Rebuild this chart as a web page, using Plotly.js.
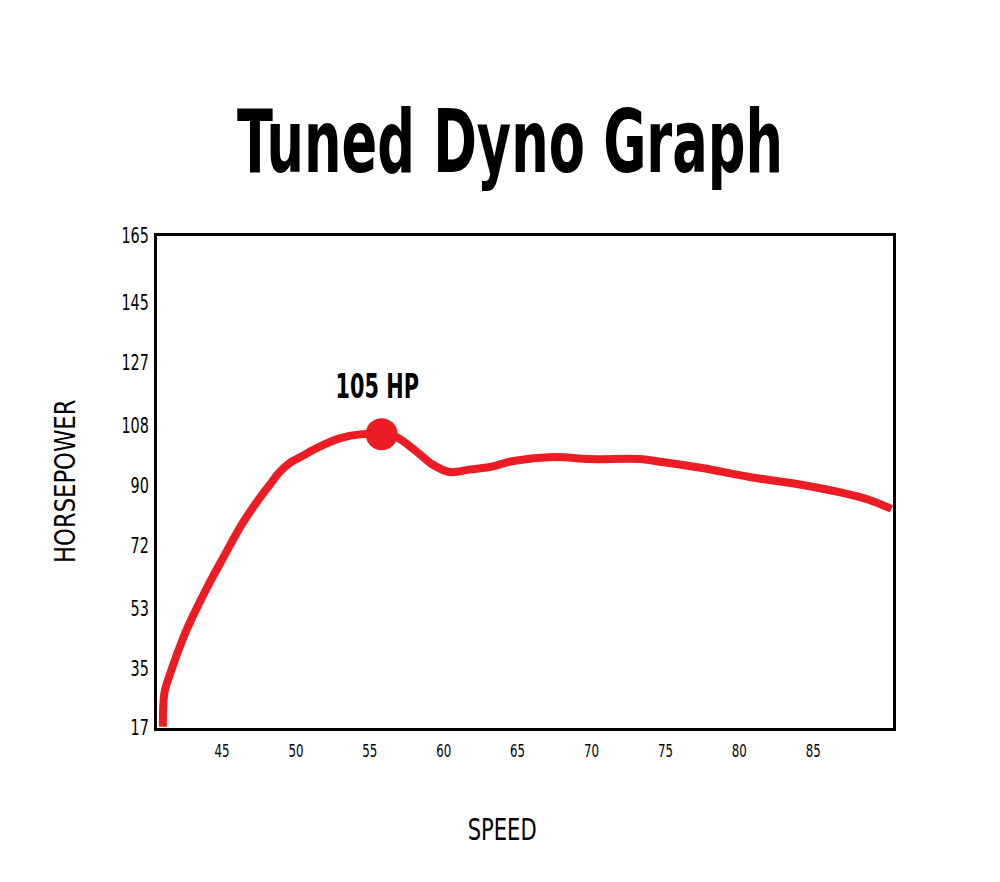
<!DOCTYPE html>
<html>
<head>
<meta charset="utf-8">
<script src="https://cdn.plot.ly/plotly-3.0.1.min.js"></script>
<style>
html,body{margin:0;padding:0;background:#fff;}
#chart{width:1000px;height:882px;}
</style>
</head>
<body>
<div id="chart"></div>
<script>
const speed = [41.0, 41.1, 41.5, 42.4, 43.0, 44.0, 45.1, 46.4, 47.6, 48.3, 48.9, 49.6, 50.3, 51.4, 53.0, 54.5, 55.8, 56.8, 58.2, 59.3, 60.4, 61.8, 63.1, 64.7, 67.4, 69.9, 73.3, 74.8, 77.5, 80.7, 83.9, 87.0, 88.8, 90.3];
const horsepower = [17.4, 27.5, 33.5, 44.4, 50.4, 59.4, 68.4, 78.7, 86.5, 90.6, 94.0, 96.8, 98.5, 101.2, 104.2, 105.4, 105.4, 104.5, 100.0, 96.1, 94.0, 94.8, 95.5, 97.3, 98.5, 97.9, 97.9, 97.0, 95.2, 92.5, 90.4, 87.7, 85.6, 82.9];
const peakSpeed = [55.8];
const peakHP = [105.4];
const peakLabel = "105 HP";
const yTicks = [17, 35, 53, 72, 90, 108, 127, 145, 165];
const xTicks = [45, 50, 55, 60, 65, 70, 75, 80, 85];

const RED = '#ec1c24';
const FONT = '"DejaVu Sans Condensed", "DejaVu Sans", sans-serif';

const traces = [
  {x: speed, y: horsepower, type: 'scatter', mode: 'lines',
   line: {color: RED, width: 8, shape: 'spline', smoothing: 1.0}, hoverinfo: 'skip'},
  {x: peakSpeed, y: peakHP, type: 'scatter', mode: 'markers',
   marker: {color: RED, size: 32}, hoverinfo: 'skip'}
];

const layout = {
  width: 1000, height: 882,
  paper_bgcolor: '#fff', plot_bgcolor: '#fff',
  showlegend: false,
  margin: {l: 157, r: 107, t: 236, b: 154},
  title: {text: 'Tuned Dyno Graph', x: 0.51, xanchor: 'center', y: 0.84, yanchor: 'middle',
          yref: 'container',
          font: {family: FONT, size: 88, weight: 'bold', color: '#000'}},
  xaxis: {range: [40.6, 90.4], tickvals: xTicks, ticktext: xTicks.map(String),
          showgrid: false, zeroline: false, showline: true, linecolor: '#000', linewidth: 3,
          mirror: true, ticks: '', ticklabelstandoff: 4,
          tickfont: {family: FONT, size: 18, color: '#000'}},
  yaxis: {range: [17, 165], tickvals: yTicks, ticktext: yTicks.map(String),
          showgrid: false, zeroline: false, showline: true, linecolor: '#000', linewidth: 3,
          mirror: true, ticks: '', ticklabelstandoff: 1,
          tickfont: {family: FONT, size: 21, color: '#000'}},
  annotations: [
    {x: peakSpeed[0] - 0.3, y: 120, xref: 'x', yref: 'y', text: peakLabel,
     showarrow: false, font: {family: FONT, size: 34, weight: 'bold', color: '#000'}},
    {x: 0.4694, y: -0.2053, xref: 'paper', yref: 'paper', text: 'SPEED', xanchor: 'center', yanchor: 'middle',
     showarrow: false, font: {family: FONT, size: 30, color: '#000'}},
    {x: -0.125, y: 0.502, xref: 'paper', yref: 'paper', text: 'HORSEPOWER', textangle: -90,
     xanchor: 'center', yanchor: 'middle',
     showarrow: false, font: {family: FONT, size: 28, color: '#000'}}
  ]
};

function squeeze(el, factor) {
  const w = el.getComputedTextLength();
  el.setAttribute('textLength', (w * factor).toFixed(1));
  el.setAttribute('lengthAdjust', 'spacingAndGlyphs');
}

Plotly.newPlot('chart', traces, layout, {displayModeBar: false, staticPlot: true}).then(gd => {
  const t = gd.querySelector('.gtitle');
  if (t) {
    const w = t.getComputedTextLength();
    const f = 546 / w;
    const cx = parseFloat(t.getAttribute('x'));
    const prev = t.getAttribute('transform') || '';
    t.setAttribute('transform', prev + ' translate(' + cx + ',0) scale(' + f.toFixed(4) + ',1) translate(' + (-cx) + ',0)');
  }
  gd.querySelectorAll('.ytick text').forEach(e => squeeze(e, 0.76));
  gd.querySelectorAll('.xtick text').forEach(e => squeeze(e, 0.73));
  const ann = gd.querySelectorAll('.annotation-text');
  if (ann[0]) squeeze(ann[0], 0.68);
  if (ann[1]) squeeze(ann[1], 0.78);
  if (ann[2]) squeeze(ann[2], 0.90);
});
</script>
</body>
</html>
